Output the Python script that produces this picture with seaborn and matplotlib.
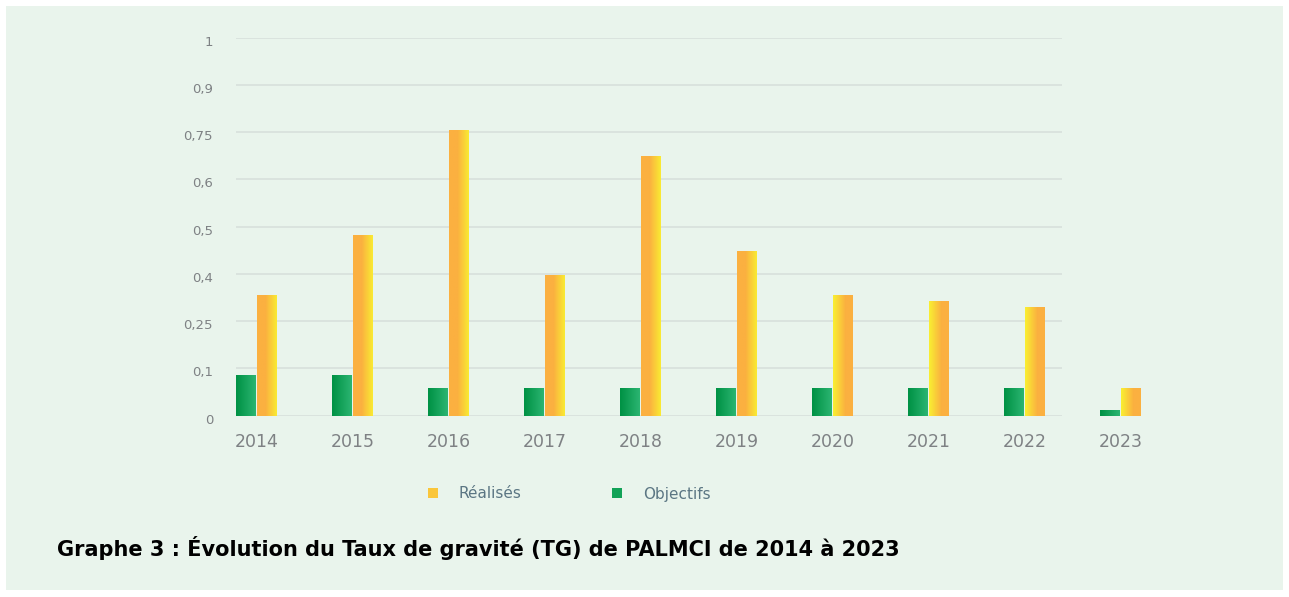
import numpy as np
import pandas as pd
import matplotlib
matplotlib.use('Agg')
import matplotlib.pyplot as plt
import matplotlib.transforms as mtransforms
import seaborn as sns
from matplotlib.patches import Patch, Rectangle
from matplotlib.colors import LinearSegmentedColormap

# ---- Données ----
annees = ['2014', '2015', '2016', '2017', '2018', '2019', '2020', '2021', '2022', '2023']
realises = [0.336, 0.483, 0.76, 0.40, 0.678, 0.45, 0.335, 0.316, 0.297, 0.06]
objectifs = [0.088, 0.088, 0.06, 0.06, 0.06, 0.06, 0.06, 0.06, 0.06, 0.013]

# axe Y non linéaire : graduations régulièrement espacées
graduations = [0, 0.1, 0.25, 0.4, 0.5, 0.6, 0.75, 0.9, 1]
etiquettes_y = ['0', '0,1', '0,25', '0,4', '0,5', '0,6', '0,75', '0,9', '1']

titre = 'Graphe 3 : Évolution du Taux de gravité (TG) de PALMCI de 2014 à 2023'

df = pd.DataFrame({
    'annee': annees * 2,
    'valeur': objectifs + realises,
    'serie': ['Objectifs'] * len(annees) + ['Réalisés'] * len(annees),
})

# ---- Style ----
fond = '#E9F4EC'
gris_grille = '#D6DEDA'
gris_texte = '#7E8184'
vert_fonce, vert_clair = '#009245', '#2DB673'
orange, jaune = '#FBB040', '#F9ED32'
cmap_vert = LinearSegmentedColormap.from_list('vert', [vert_fonce, vert_clair])
cmap_orange = LinearSegmentedColormap.from_list(
    'orange', [(0, orange), (0.4, orange), (1, jaune)])
cmap_orange_inv = LinearSegmentedColormap.from_list(
    'orange_inv', [(0, jaune), (0.6, orange), (1, orange)])
inverses = {'2020', '2021', '2022', '2023'}  # dégradé inversé sur ces barres

sns.set_style('white')
plt.rcParams['font.family'] = ['DejaVu Sans']

fig = plt.figure(figsize=(12.89, 5.97), dpi=100)
fig.patch.set_facecolor('white')
fig.patches.append(Rectangle((6 / 1289, 7 / 597), 1277 / 1289, 584 / 597,
                             transform=fig.transFigure, facecolor=fond,
                             edgecolor='none', zorder=-10))

W, H = 1289, 597
x0_px, x1_px = 236, 1170
y0_px, y1_px = 415.7, 37.5
ax = fig.add_axes([x0_px / W, (H - y0_px) / H, (x1_px - x0_px) / W, (y0_px - y1_px) / H])
ax.set_facecolor('none')

# échelle par morceaux : chaque graduation à égale distance
pos = np.arange(len(graduations), dtype=float)
def avant(v):
    return np.interp(v, graduations, pos)
def arriere(p):
    return np.interp(p, pos, graduations)
ax.set_yscale('function', functions=(avant, arriere))

sns.barplot(data=df, x='annee', y='valeur', hue='serie',
            hue_order=['Objectifs', 'Réalisés'], order=annees,
            palette={'Objectifs': vert_fonce, 'Réalisés': orange},
            width=0.44, gap=0.05, legend=False, errorbar=None, ax=ax)

# limites en unités de catégorie (96 px par année, centre 2014 à x=256.5 px)
px_par_cat = 96
xmin = (x0_px - 256.5) / px_par_cat
xmax = (x1_px - 256.5) / px_par_cat
xfin_grille = (1062 - 256.5) / px_par_cat

# dégradés horizontaux dans chaque barre
grad = np.linspace(0, 1, 64).reshape(1, -1)
for serie, cont in zip(['Objectifs', 'Réalisés'], ax.containers):
    for p in cont.patches:
        x, w = p.get_x(), p.get_width()
        h = p.get_height()
        idx = int(round(x + w / 2))
        if serie == 'Objectifs':
            cm = cmap_vert
        else:
            cm = cmap_orange_inv if annees[idx] in inverses else cmap_orange
        p.set_facecolor('none')
        p.set_edgecolor('none')
        im = ax.imshow(grad, extent=[x, x + w, 0, h], cmap=cm, aspect='auto',
                       interpolation='bilinear', zorder=3)
        im.set_clip_path(p)

ax.hlines(graduations, xmin, xfin_grille, colors=gris_grille, linewidth=1.1, zorder=1)

ax.set_xlim(xmin, xmax)
ax.set_ylim(0, 1)
ax.set_yticks(graduations)
ax.set_yticklabels(etiquettes_y)
ax.yaxis.set_minor_locator(matplotlib.ticker.NullLocator())
ax.tick_params(axis='y', length=0, pad=16.5, labelsize=9.5, labelcolor=gris_texte)
ax.tick_params(axis='x', length=0, pad=12.5, labelsize=12.5, labelcolor=gris_texte)
decal = mtransforms.ScaledTranslation(0, -3 / 100, fig.dpi_scale_trans)
for lab in ax.get_yticklabels():
    lab.set_transform(lab.get_transform() + decal)
ax.set_xlabel('')
ax.set_ylabel('')
sns.despine(ax=ax, left=True, bottom=True)

# légende
poignees = [Patch(facecolor='#FAC63A', edgecolor='none', label='Réalisés'),
            Patch(facecolor='#12A257', edgecolor='none', label='Objectifs')]
leg = fig.legend(handles=poignees, loc='center', bbox_to_anchor=(569 / W, (H - 494) / H),
                 ncol=2, frameon=False, handlelength=0.68, handleheight=0.68,
                 handletextpad=1.35, columnspacing=5.9,
                 prop={'family': ['DejaVu Sans'], 'size': 11})
for t in leg.get_texts():
    t.set_color('#5B7683')

fig.text(57 / W, (H - 556) / H, titre, ha='left', va='baseline',
         fontsize=15, fontweight='bold', color='black')

fig.savefig('out.png', dpi=100, facecolor='white')
